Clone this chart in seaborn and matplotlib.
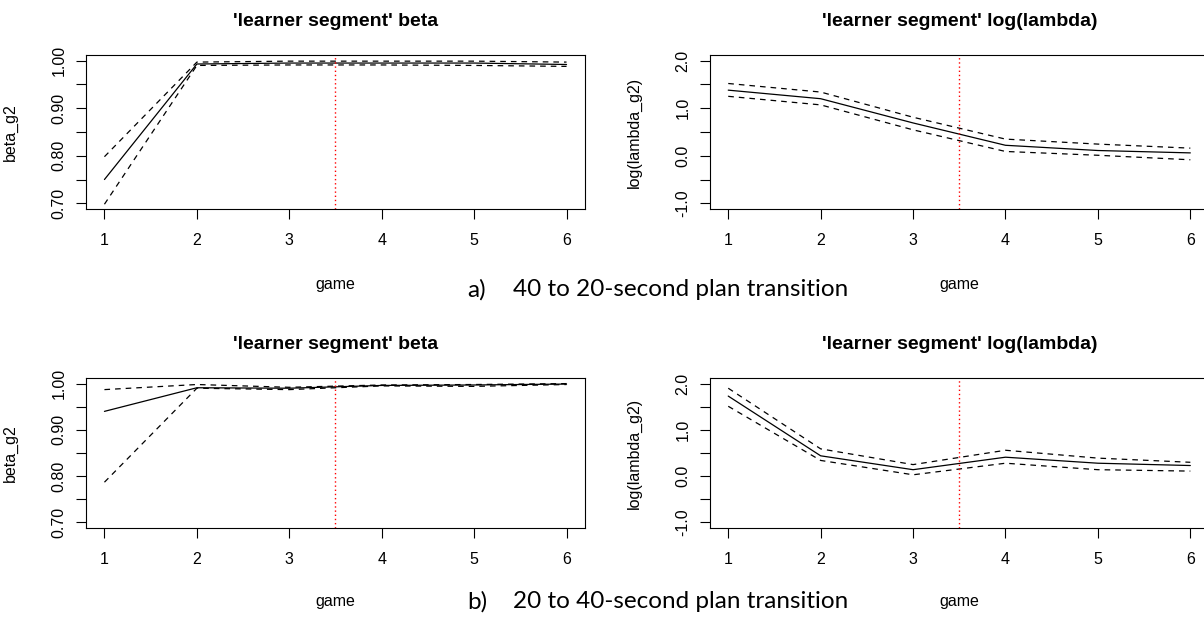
import matplotlib
matplotlib.use("Agg")
import matplotlib.pyplot as plt
import seaborn as sns

# Data
games = [1, 2, 3, 4, 5, 6]
transition_game = 3.5

# a) 40 to 20-second plan transition
beta_a_mean = [0.750, 0.993, 0.995, 0.995, 0.995, 0.992]
beta_a_upper = [0.798, 0.997, 0.999, 0.999, 0.999, 0.997]
beta_a_lower = [0.698, 0.990, 0.991, 0.991, 0.990, 0.988]
lam_a_mean = [1.38, 1.20, 0.69, 0.22, 0.11, 0.06]
lam_a_upper = [1.52, 1.34, 0.81, 0.35, 0.245, 0.16]
lam_a_lower = [1.25, 1.07, 0.545, 0.09, 0.01, -0.085]

# b) 20 to 40-second plan transition
beta_b_mean = [0.940, 0.991, 0.990, 0.996, 0.997, 0.999]
beta_b_upper = [0.987, 0.998, 0.992, 0.997, 0.998, 1.000]
beta_b_lower = [0.787, 0.990, 0.987, 0.995, 0.994, 0.998]
lam_b_mean = [1.73, 0.44, 0.14, 0.41, 0.28, 0.23]
lam_b_upper = [1.90, 0.59, 0.25, 0.56, 0.39, 0.30]
lam_b_lower = [1.51, 0.34, 0.03, 0.28, 0.14, 0.11]

beta_major = [0.70, 0.80, 0.90, 1.00]
beta_minor = [0.75, 0.85, 0.95]
beta_labels = ["0.70", "0.80", "0.90", "1.00"]
lam_major = [-1.0, 0.0, 1.0, 2.0]
lam_minor = [-0.5, 0.5, 1.5]
lam_labels = ["-1.0", "0.0", "1.0", "2.0"]

captions = ["40 to 20-second plan transition", "20 to 40-second plan transition"]

sns.set_style("ticks")
plt.rcParams["font.family"] = ["Liberation Sans", "DejaVu Sans"]
plt.rcParams["axes.unicode_minus"] = False
for key in ("text.color", "axes.labelcolor", "xtick.color", "ytick.color"):
    plt.rcParams[key] = "black"

fig = plt.figure(figsize=(12.04, 6.17), dpi=100)
fig.patch.set_facecolor("white")


def panel(rect, mean, upper, lower, ylim, major, minor, labels, title, ylabel):
    ax = fig.add_axes(rect)
    sns.lineplot(x=games, y=mean, ax=ax, color="black", lw=0.9)
    for vals in (upper, lower):
        sns.lineplot(x=games, y=vals, ax=ax, color="black", lw=0.9,
                     linestyle=(0, (4.5, 4)))
    ax.axvline(transition_game, color="red", lw=1, linestyle=(0, (1, 2)))
    ax.set_xlim(0.8, 6.2)
    ax.set_ylim(*ylim)
    ax.set_xticks(games)
    ax.set_yticks(major)
    ax.set_yticks(minor, minor=True)
    ax.set_yticklabels(labels, rotation=90, va="center")
    for s in ax.spines.values():
        s.set_visible(True)
        s.set_linewidth(0.8)
        s.set_color("black")
    ax.tick_params(axis="both", which="both", direction="out", length=7,
                   width=0.8, color="black", labelsize=11.5)
    ax.tick_params(axis="x", pad=10.5)
    ax.tick_params(axis="y", pad=7)
    ax.set_title(title, fontsize=14, fontweight="bold", pad=21)
    ax.set_xlabel("game", fontsize=11.5)
    ax.set_ylabel(ylabel, fontsize=11.5)
    ax.xaxis.set_label_coords(0.5, -0.44)
    ax.yaxis.set_label_coords(-0.136, 0.5)
    return ax


top = [0.6613, 0.2496]
bot = [0.1442, 0.2431]
left_x, right_x, w = 0.0714, 0.5895, 0.4145

panel([left_x, top[0], w, top[1]], beta_a_mean, beta_a_upper, beta_a_lower,
      (0.688, 1.012), beta_major, beta_minor, beta_labels,
      "'learner segment' beta", "beta_g2")
panel([right_x, top[0], w, top[1]], lam_a_mean, lam_a_upper, lam_a_lower,
      (-1.12, 2.12), lam_major, lam_minor, lam_labels,
      "'learner segment' log(lambda)", "log(lambda_g2)")
panel([left_x, bot[0], w, bot[1]], beta_b_mean, beta_b_upper, beta_b_lower,
      (0.688, 1.012), beta_major, beta_minor, beta_labels,
      "'learner segment' beta", "beta_g2")
panel([right_x, bot[0], w, bot[1]], lam_b_mean, lam_b_upper, lam_b_lower,
      (-1.12, 2.12), lam_major, lam_minor, lam_labels,
      "'learner segment' log(lambda)", "log(lambda_g2)")

# captions under each row
for tag, text, y in (("a)", captions[0], 0.5300), ("b)", captions[1], 0.0250)):
    fig.text(467 / 1204, y, tag, fontsize=17.5, va="center",
             family=["Lato", "DejaVu Sans"])
    fig.text(513 / 1204, y, text, fontsize=17.5, va="center",
             family=["Lato", "DejaVu Sans"])

fig.savefig("out.png", dpi=100, facecolor="white")
